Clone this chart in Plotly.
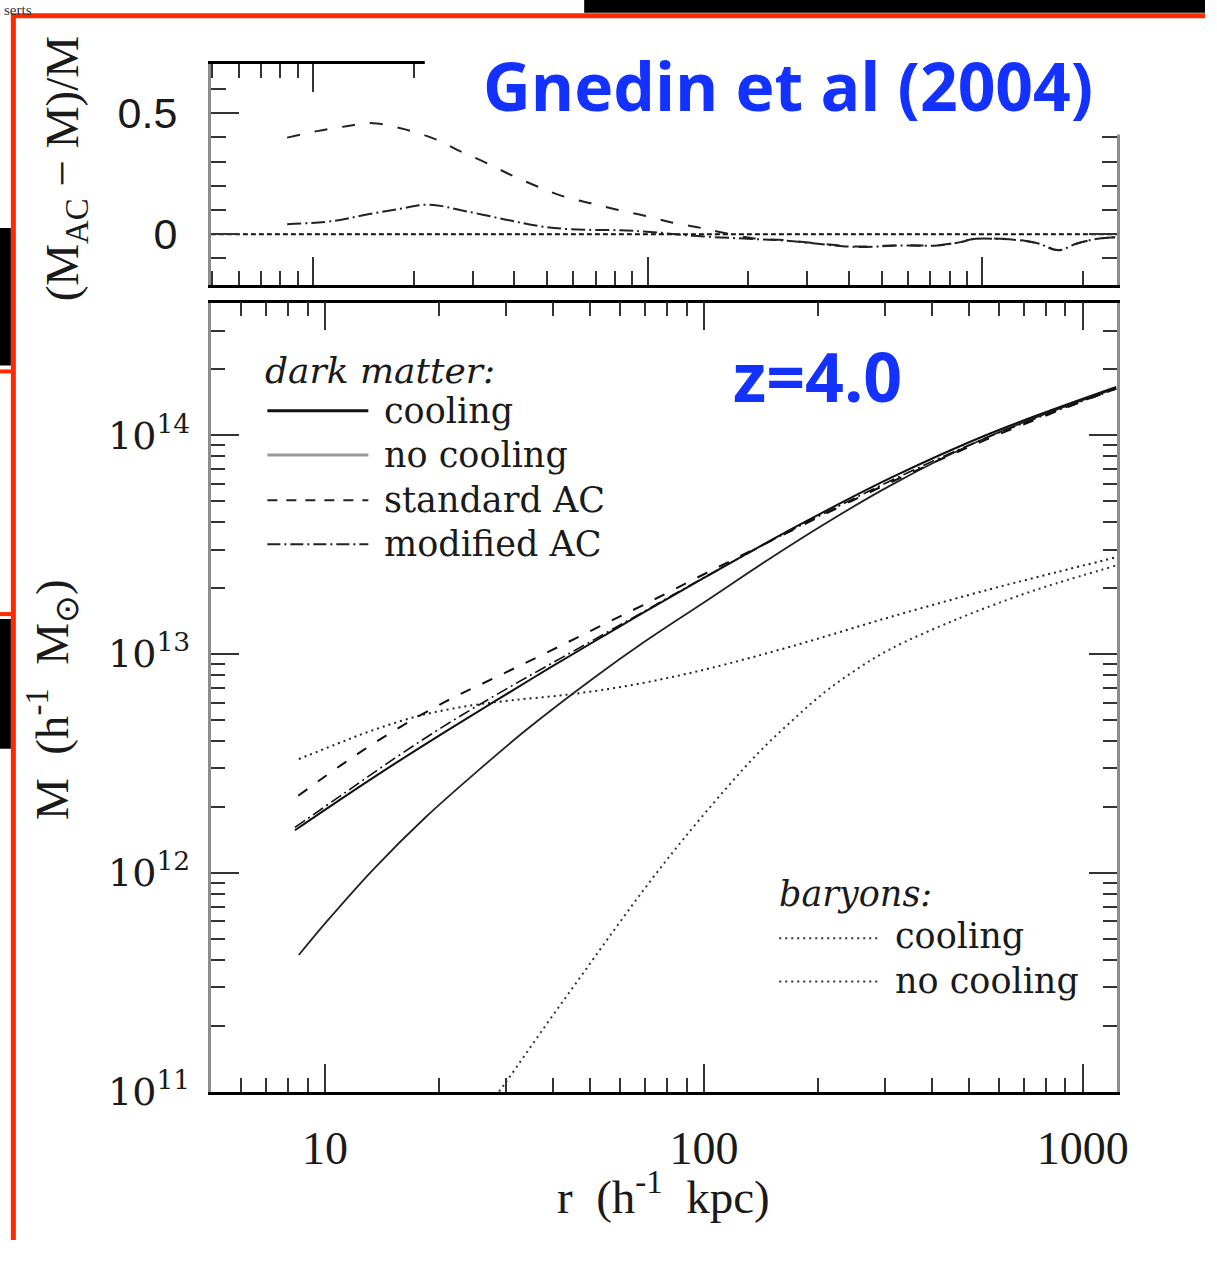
import plotly.graph_objects as go

# ---------------- data ----------------
# bottom panel: enclosed mass M(<r) [h^-1 Msun] vs r [h^-1 kpc]
r_dm_cool = [8.33, 11.4, 15.4, 20.8, 28.1, 37.9, 51.2, 69.2, 100, 170.6, 311, 567, 1225]
m_dm_cool = [1.565e12, 2.26e12, 3.18e12, 4.42e12, 6.09e12, 8.35e12, 1.138e13, 1.545e13,
             2.226e13, 3.73e13, 6.38e13, 1.016e14, 1.66e14]

r_dm_nocool = [8.53, 10.1, 13.4, 18.4, 25.4, 34.2, 51.2, 69.2, 100, 170.6, 311, 567, 1225]
m_dm_nocool = [4.21e11, 5.98e11, 1.035e12, 1.79e12, 2.94e12, 4.54e12, 7.77e12, 1.128e13,
               1.72e13, 3.17e13, 5.90e13, 9.89e13, 1.64e14]

r_std_ac = [8.5, 11.4, 15.4, 20.8, 28.1, 37.9, 51.2, 69.2, 100, 170.6, 311, 567, 1225]
m_std_ac = [2.25e12, 3.23e12, 4.52e12, 6.06e12, 7.80e12, 1.002e13, 1.297e13, 1.676e13,
            2.315e13, 3.67e13, 6.09e13, 9.69e13, 1.635e14]

r_mod_ac = [8.33, 11.4, 15.4, 20.8, 28.1, 37.9, 51.2, 69.2, 100, 170.6, 311, 567, 1225]
m_mod_ac = [1.612e12, 2.35e12, 3.37e12, 4.73e12, 6.46e12, 8.68e12, 1.161e13, 1.560e13,
            2.237e13, 3.69e13, 6.19e13, 9.86e13, 1.627e14]

r_bar_cool = [8.53, 10.7, 13.2, 17.8, 24.0, 30.9, 42.3, 58.1, 79.9, 104.7, 170.4, 311,
              567, 848, 1217]
m_bar_cool = [3.31e12, 3.87e12, 4.45e12, 5.23e12, 5.80e12, 6.14e12, 6.48e12, 6.99e12,
              7.76e12, 8.64e12, 1.084e13, 1.478e13, 1.975e13, 2.36e13, 2.76e13]

r_bar_nocool = [26.4, 30.2, 38.1, 47.1, 58.1, 71.7, 88.5, 114, 139.8, 171.8, 207.9, 255,
                311, 465, 692, 849, 1217]
m_bar_nocool = [8.13e10, 1.12e11, 1.99e11, 3.32e11, 5.51e11, 9.02e11, 1.432e12, 2.41e12,
                3.56e12, 5.0e12, 6.67e12, 8.59e12, 1.055e13, 1.442e13, 1.871e13,
                2.10e13, 2.53e13]

# top panel: (M_AC - M)/M vs r
r_top_std = [8.38, 10.3, 12.6, 15.1, 19.0, 23.3, 27.3, 32.7, 39.3, 47.1, 56.4, 67.6, 81.1,
             99.5, 119, 143, 164, 206, 258, 363, 426, 572, 734, 861, 942, 1130, 1325,
             1484, 1683, 1907, 2184, 2503]
d_top_std = [0.399, 0.426, 0.446, 0.459, 0.432, 0.392, 0.345, 0.297, 0.243, 0.196, 0.155,
             0.128, 0.101, 0.074, 0.047, 0.027, 0.009, -0.017, -0.025, -0.045, -0.051,
             -0.046, -0.046, -0.032, -0.020, -0.019, -0.026, -0.040, -0.066, -0.040,
             -0.020, -0.013]

r_top_mod = [8.38, 11.5, 14.5, 18.1, 22.2, 28.6, 37.5, 47.1, 59.0, 83.0, 102, 137, 206,
             258, 363, 426, 572, 734, 861, 942, 1130, 1325, 1484, 1683, 1907, 2184, 2503]
d_top_mod = [0.041, 0.054, 0.081, 0.104, 0.122, 0.095, 0.061, 0.034, 0.020, 0.016, 0.009,
             -0.007, -0.020, -0.027, -0.047, -0.053, -0.047, -0.047, -0.033, -0.020,
             -0.020, -0.027, -0.040, -0.067, -0.040, -0.020, -0.013]

r_zero = [4.96, 2524]
d_zero = [0.0, 0.0]

x_major = [10, 100, 1000]
x_major_text = ["10", "100", "1000"]
x_minor_bottom = [5, 6, 7, 8, 9, 20, 30, 40, 50, 60, 70, 80, 90,
                  200, 300, 400, 500, 600, 700, 800, 900]
x_minor_top = x_minor_bottom + [2000]
y_major = [1e11, 1e12, 1e13, 1e14]
y_major_text = ["10<sup>11</sup>", "10<sup>12</sup>", "10<sup>13</sup>", "10<sup>14</sup>"]
y_minor = [k * 10 ** d for d in (11, 12, 13, 14) for k in range(2, 10)]
y2_major = [0, 0.5]
y2_major_text = ["0", "0.5"]
y2_minor = [-0.1, 0.1, 0.2, 0.3, 0.4, 0.6]

# ---------------- figure ----------------
W, H = 1217, 1262


def PX(x):
    return x / W


def PY(y):
    return 1 - y / H


INK = "#111111"
fig = go.Figure()

# bottom panel curves
fig.add_trace(go.Scatter(x=r_dm_nocool, y=m_dm_nocool, mode="lines", line_shape="spline",
                         line=dict(color="#222222", width=1.8), xaxis="x", yaxis="y"))
fig.add_trace(go.Scatter(x=r_dm_cool, y=m_dm_cool, mode="lines", line_shape="spline",
                         line=dict(color=INK, width=2), xaxis="x", yaxis="y"))
fig.add_trace(go.Scatter(x=r_mod_ac, y=m_mod_ac, mode="lines", line_shape="spline",
                         line=dict(color=INK, width=1.6, dash="12px,4px,2px,4px"),
                         xaxis="x", yaxis="y"))
fig.add_trace(go.Scatter(x=r_std_ac, y=m_std_ac, mode="lines", line_shape="spline",
                         line=dict(color=INK, width=2, dash="11px,13px"), xaxis="x", yaxis="y"))
fig.add_trace(go.Scatter(x=r_bar_cool, y=m_bar_cool, mode="lines", line_shape="spline",
                         line=dict(color="#222222", width=2, dash="2px,4px"), xaxis="x", yaxis="y"))
fig.add_trace(go.Scatter(x=r_bar_nocool, y=m_bar_nocool, mode="lines", line_shape="spline",
                         line=dict(color="#333333", width=2, dash="2px,4px"), xaxis="x", yaxis="y"))

# top panel curves
fig.add_trace(go.Scatter(x=r_zero, y=d_zero, mode="lines",
                         line=dict(color=INK, width=2, dash="5px,3px"), xaxis="x2", yaxis="y2"))
fig.add_trace(go.Scatter(x=r_top_std, y=d_top_std, mode="lines", line_shape="spline",
                         line=dict(color="#222222", width=2, dash="13px,15px"), xaxis="x2", yaxis="y2"))
fig.add_trace(go.Scatter(x=r_top_mod, y=d_top_mod, mode="lines", line_shape="spline",
                         line=dict(color="#222222", width=2, dash="14px,4px,2px,4px"),
                         xaxis="x2", yaxis="y2"))

tick_common = dict(ticks="inside", tickwidth=2, tickcolor="#333333", showgrid=False,
                   zeroline=False, showline=True, mirror="ticks")
xdom = [PX(213), PX(1128)]

fig.update_layout(
    width=W, height=H, margin=dict(l=0, r=0, t=0, b=0),
    paper_bgcolor="white", plot_bgcolor="white", showlegend=False,
    xaxis=dict(domain=xdom, anchor="y", type="log", range=[0.69897, 3.0899],
               tickvals=x_major, ticktext=x_major_text, ticklen=28,
               minor=dict(tickvals=x_minor_bottom, ticks="inside", ticklen=14,
                          tickwidth=2, tickcolor="#333333"),
               linecolor="black", linewidth=2.5, ticklabelstandoff=14,
               tickfont=dict(family="Liberation Serif", size=46, color="#1a1a1a"),
               **tick_common),
    yaxis=dict(domain=[PY(1111), PY(308)], anchor="x", type="log", range=[11, 14.606],
               tickvals=y_major, ticktext=y_major_text, ticklen=28,
               minor=dict(tickvals=y_minor, ticks="inside", ticklen=14,
                          tickwidth=2, tickcolor="#333333"),
               linecolor="#8c8c8c", linewidth=3, ticklabelstandoff=10,
               tickfont=dict(family="DejaVu Serif", size=38, color="#1a1a1a"),
               **tick_common),
    xaxis2=dict(domain=xdom, anchor="y2", type="log", range=[0.6955, 3.402],
                tickvals=x_major, ticklen=28, showticklabels=False,
                minor=dict(tickvals=x_minor_top, ticks="inside", ticklen=14,
                           tickwidth=2, tickcolor="#333333"),
                linecolor="black", linewidth=2.5, **tick_common),
    yaxis2=dict(domain=[PY(290), PY(65)], anchor="x2", range=[-0.21, 0.704],
                tickvals=y2_major, ticktext=y2_major_text, ticklen=28,
                minor=dict(tickvals=y2_minor, ticks="inside", ticklen=15,
                           tickwidth=2, tickcolor="#333333"),
                linecolor="#8c8c8c", linewidth=3, ticklabelstandoff=22,
                tickfont=dict(family="Liberation Sans", size=43, color="#1a1a1a"),
                **tick_common),
)

shapes = []
# white box behind the blue title (hides part of top frame, as in the slide)
shapes.append(dict(type="rect", xref="paper", yref="paper", x0=PX(429), x1=PX(1145),
                   y0=PY(137), y1=PY(20), fillcolor="white", line=dict(width=0), layer="above"))
# slide decorations
shapes.append(dict(type="rect", xref="paper", yref="paper", x0=PX(590), x1=PX(1217),
                   y0=PY(13), y1=PY(0), fillcolor="black", line=dict(width=0), layer="above"))
shapes.append(dict(type="rect", xref="paper", yref="paper", x0=PX(0), x1=PX(11),
                   y0=PY(372), y1=PY(232), fillcolor="black", line=dict(width=0), layer="above"))
shapes.append(dict(type="rect", xref="paper", yref="paper", x0=PX(0), x1=PX(11),
                   y0=PY(762), y1=PY(630), fillcolor="black", line=dict(width=0), layer="above"))
for yy in (378, 625):
    shapes.append(dict(type="line", xref="paper", yref="paper", x0=PX(0), x1=PX(13),
                       y0=PY(yy), y1=PY(yy), line=dict(color="#ff2a00", width=4), layer="above"))
shapes.append(dict(type="line", xref="paper", yref="paper", x0=PX(11), x1=PX(1217),
                   y0=PY(16), y1=PY(16), line=dict(color="#ff2a00", width=5), layer="above"))
shapes.append(dict(type="line", xref="paper", yref="paper", x0=PX(13.5), x1=PX(13.5),
                   y0=PY(14), y1=PY(1262), line=dict(color="#ff2a00", width=5), layer="above"))

# legend sample lines
leg_dm = [(418, dict(color="#111111", width=3)),
          (463, dict(color="#9a9a9a", width=3)),
          (509, dict(color="#222222", width=2, dash="10px,9px")),
          (554, dict(color="#222222", width=2, dash="13px,4px,2px,4px"))]
for yy, ln in leg_dm:
    shapes.append(dict(type="line", xref="paper", yref="paper", x0=PX(270), x1=PX(372),
                       y0=PY(yy), y1=PY(yy), line=ln))
for yy in (955, 999):
    shapes.append(dict(type="line", xref="paper", yref="paper", x0=PX(787), x1=PX(890),
                       y0=PY(yy), y1=PY(yy), line=dict(color="#333333", width=2, dash="2px,4px")))
fig.update_layout(shapes=shapes)

serif = "DejaVu Serif"
ann = []


def add_text(text, x, y, size, family=serif, color="#1a1a1a", xanchor="left",
             yanchor="middle", angle=0):
    ann.append(dict(text=text, x=PX(x), y=PY(y), xref="paper", yref="paper",
                    showarrow=False, xanchor=xanchor, yanchor=yanchor, textangle=angle,
                    font=dict(family=family, size=size, color=color)))


add_text("<i>dark matter:</i>", 266, 377, 36)
add_text("cooling", 386, 418, 35)
add_text("no cooling", 386, 463, 35)
add_text("standard AC", 386, 509, 35)
add_text("modified AC", 386, 554, 35)
add_text("<i>baryons:</i>", 785, 910, 35)
add_text("cooling", 902, 953, 35)
add_text("no cooling", 902, 998, 35)

add_text("<b>Gnedin et al (2004)</b>", 486, 86, 66, family="Open Sans", color="#1432ff")
add_text("<b>z=4.0</b>", 738, 382, 68, family="Open Sans", color="#1432ff")

add_text("r  (h<sup>-1</sup>  kpc)", 670, 1215, 47, family="Liberation Serif",
         xanchor="center")
add_text("M  (h<sup>-1</sup>  M<sub>⊙</sub>)", 52, 712, 47, family="Liberation Serif",
         xanchor="center", angle=-90)
add_text("(M<sub>AC</sub> − M)/M", 66, 172, 47, family="Liberation Serif",
         xanchor="center", angle=-90)
add_text("serts", 2, 0, 15, family="Liberation Serif", color="#333333", yanchor="top")
fig.update_layout(annotations=ann)

fig.write_html("out.html")
